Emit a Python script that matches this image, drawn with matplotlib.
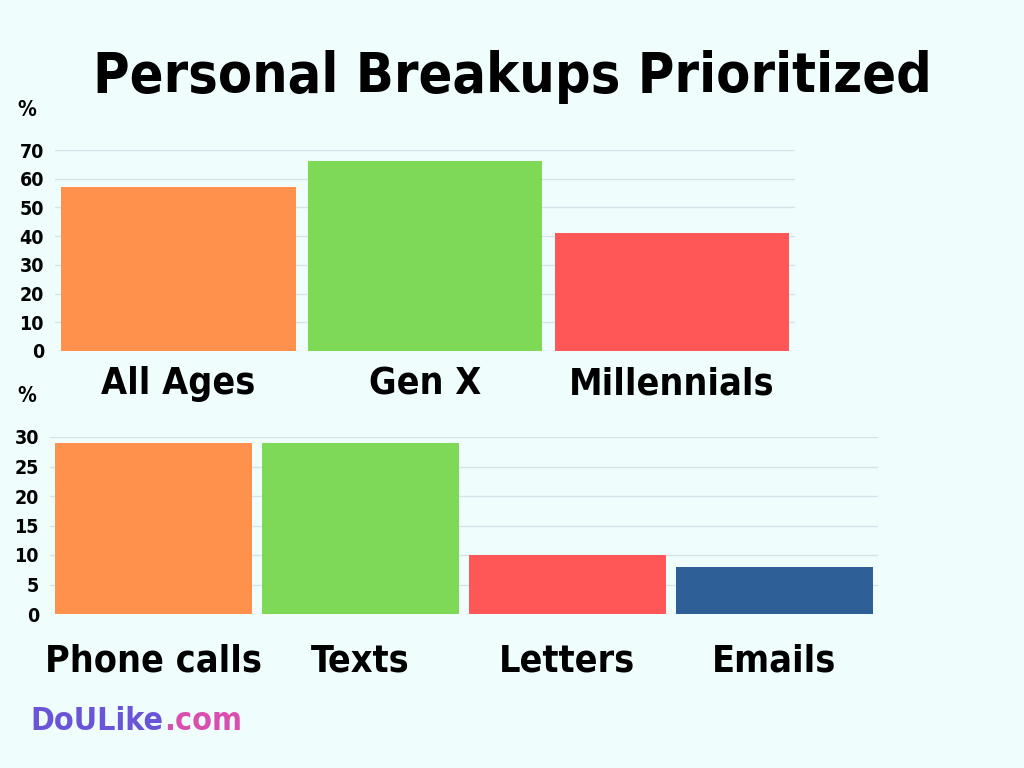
import matplotlib.pyplot as plt

plt.rcParams['font.family'] = ['DejaVu Sans']
plt.rcParams['font.stretch'] = 'condensed'

BG = '#effefd'
age_groups = ['All Ages', 'Gen X', 'Millennials']
age_values = [57, 66, 41]
age_colors = ['#ff914d', '#7ed957', '#ff5757']

methods = ['Phone calls', 'Texts', 'Letters', 'Emails']
method_values = [29, 29, 10, 8]
method_colors = ['#ff914d', '#7ed957', '#ff5757', '#2e5f97']

fig = plt.figure(figsize=(10.24, 7.68), dpi=100, facecolor=BG)


def style(ax, ticks):
    ax.set_facecolor(BG)
    ax.set_yticks(ticks)
    ax.grid(axis='y', color='#d5e3e8', linewidth=1)
    ax.set_axisbelow(True)
    for s in ax.spines.values():
        s.set_visible(False)
    ax.tick_params(length=0, labelsize=14, pad=8)
    for t in ax.get_yticklabels():
        t.set_fontweight('bold')
        t.set_fontstretch('condensed')
    ax.set_xticks([])


ax1 = fig.add_axes([55 / 1024, 1 - 351 / 768, 740 / 1024, 201 / 768])
ax1.bar(range(3), age_values, width=0.95, color=age_colors)
ax1.set_xlim(-0.5, 2.5)
ax1.set_ylim(0, 70)
style(ax1, range(0, 71, 10))
for i, lab in enumerate(age_groups):
    ax1.text(i, -11.5, lab, ha='center', va='center', fontsize=27, fontweight='bold')
fig.text(27 / 1024, 1 - 110 / 768, '%', ha='center', va='center', fontsize=15, fontweight='bold')

ax2 = fig.add_axes([50 / 1024, 1 - 614 / 768, 828 / 1024, 177 / 768])
ax2.bar(range(4), method_values, width=0.95, color=method_colors)
ax2.set_xlim(-0.5, 3.5)
ax2.set_ylim(0, 30)
style(ax2, range(0, 31, 5))
ax2.set_yticklabels([str(v) for v in range(0, 31, 5)], fontweight='bold', fontsize=14)
for i, lab in enumerate(methods):
    ax2.text(i, -8, lab, ha='center', va='center', fontsize=27, fontweight='bold')
fig.text(27 / 1024, 1 - 396 / 768, '%', ha='center', va='center', fontsize=15, fontweight='bold')

fig.text(0.5, 0.9, 'Personal Breakups Prioritized', ha='center', va='center',
         fontsize=40, fontweight='bold')
logo = fig.text(0.03, 0.06, 'DoULike', fontsize=23, fontweight='bold', color='#6a55d8', va='center')
fig.canvas.draw()
bb = logo.get_window_extent()
fig.text(bb.x1 / 1024, 0.06, '.com', fontsize=23, fontweight='bold', color='#d94fb0', va='center')

fig.savefig('out.png', dpi=100, facecolor=BG)
